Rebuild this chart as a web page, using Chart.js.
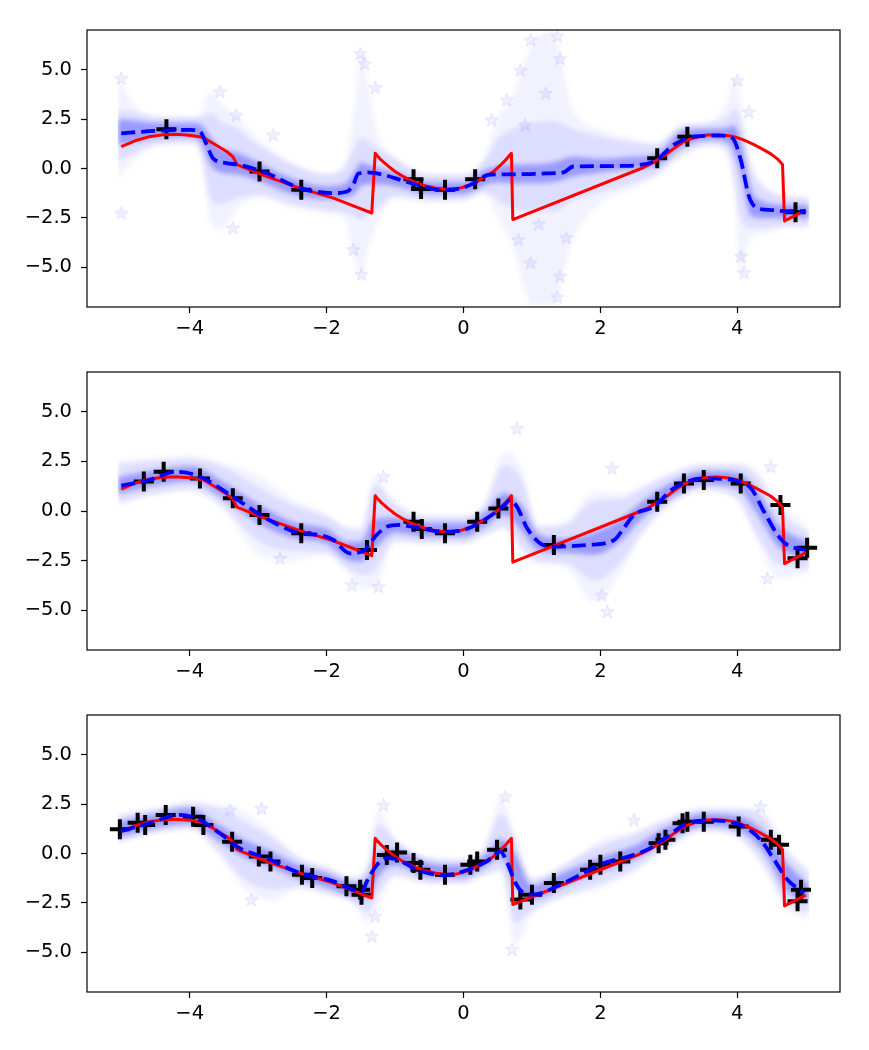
<!DOCTYPE html>
<html><head><meta charset="utf-8">
<script src="https://cdn.jsdelivr.net/npm/chart.js@4.4.1/dist/chart.umd.min.js"></script>
<style>
html,body{margin:0;padding:0;background:#fff;width:869px;height:1050px;overflow:hidden;}
canvas{position:absolute;left:0;}
</style></head><body>
<canvas id="c1" width="869" height="327" style="top:20px"></canvas>
<canvas id="c2" width="869" height="328" style="top:362px"></canvas>
<canvas id="c3" width="869" height="327" style="top:705px"></canvas>
<script>
// ---------- tick labels ----------
const xTicks = [-4, -2, 0, 2, 4];
const yTicks = [-5, -2.5, 0, 2.5, 5];

// ---------- true function (red) ----------
const trueX = [-5.0,-4.8,-4.6,-4.4,-4.2,-4.0,-3.9,-3.8,-3.66,-3.46,-3.37,-3.31,-2.88,-2.39,-1.9,-1.6,-1.34,-1.29,-1.25,-1.2,-1.1,-1.0,-0.9,-0.8,-0.7,-0.55,-0.4,-0.25,-0.1,0.0,0.1,0.2,0.3,0.44,0.55,0.62,0.7,0.72,2.63,2.7,2.8,2.9,2.98,3.1,3.22,3.32,3.45,3.56,3.7,3.85,3.95,4.05,4.15,4.25,4.34,4.42,4.49,4.58,4.66,4.69,5.0];
const trueY = [1.1,1.4,1.6,1.7,1.73,1.68,1.63,1.57,1.28,0.86,0.6,0.2,-0.4,-0.99,-1.5,-1.9,-2.25,0.77,0.6,0.42,0.12,-0.15,-0.37,-0.55,-0.7,-0.88,-1.0,-1.06,-1.03,-0.94,-0.82,-0.65,-0.45,-0.15,0.2,0.45,0.77,-2.58,0.05,0.17,0.37,0.58,0.77,1.08,1.36,1.5,1.63,1.69,1.71,1.67,1.61,1.5,1.36,1.19,1.03,0.88,0.74,0.5,0.2,-2.65,-2.1];

// ---------- panel 1 ----------
const p1TrainX = [-4.34,-2.98,-2.37,-0.73,-0.62,-0.27,0.17,2.83,3.27,4.85];
const p1TrainY = [1.98,-0.15,-1.07,-0.54,-1.04,-1.07,-0.54,0.52,1.61,-2.21];
const p1MeanX = [-5.0,-4.5,-4.0,-3.85,-3.76,-3.66,-3.46,-3.27,-2.88,-2.39,-1.9,-1.7,-1.61,-1.54,-1.41,-1.17,-0.93,-0.68,-0.29,0.0,0.2,0.34,0.5,0.83,1.2,1.46,1.6,2.0,2.29,2.78,3.07,3.37,3.76,3.93,4.05,4.17,4.29,4.5,4.73,5.0];
const p1MeanY = [1.78,1.9,1.95,1.86,1.27,0.52,0.27,0.18,-0.23,-0.99,-1.24,-1.16,-0.82,-0.27,-0.2,-0.32,-0.57,-0.82,-1.1,-0.96,-0.65,-0.34,-0.3,-0.29,-0.25,-0.2,0.1,0.12,0.13,0.35,1.19,1.61,1.66,1.53,0.44,-1.41,-2.0,-2.1,-2.16,-2.16];
const p1BandX   = [-5.05,-4.75,-4.5,-4.0,-3.85,-3.7,-3.55,-3.3,-3.0,-2.5,-2.0,-1.75,-1.6,-1.5,-1.4,-1.25,-1.0,-0.5,0.0,0.3,0.5,0.7,1.0,1.3,1.6,2.0,2.5,2.8,3.2,3.6,3.85,3.95,4.05,4.2,4.4,4.7,5.05];
const p1InnerLo = [1.2,1.4,1.55,1.6,1.4,0.2,-0.2,-0.3,-0.6,-1.3,-1.55,-1.5,-1.3,-0.9,-0.8,-0.8,-0.9,-1.3,-1.3,-0.85,-0.7,-0.75,-0.75,-0.7,-0.4,-0.2,0.0,0.1,1.1,1.45,1.3,0.8,-0.3,-2.4,-2.5,-2.5,-2.5];
const p1InnerHi = [2.5,2.4,2.3,2.3,2.25,1.6,1.0,0.8,0.3,-0.5,-0.9,-0.8,-0.2,0.3,0.2,0.0,-0.2,-0.7,-0.7,-0.1,0.1,0.2,0.2,0.3,0.6,0.5,0.6,0.7,1.9,2.0,2.05,2.2,1.4,-1.0,-1.7,-1.85,-1.85];
const p1OuterLo = [0.3,0.9,1.2,1.3,0.9,-1.5,-1.8,-1.5,-1.3,-1.8,-2.1,-2.2,-2.4,-2.6,-2.4,-2.0,-1.4,-1.6,-1.6,-1.2,-1.6,-2.0,-2.2,-2.2,-1.6,-1.2,-0.7,-0.3,0.7,1.2,0.9,-0.5,-2.5,-3.0,-3.0,-2.9,-2.9];
const p1OuterHi = [3.0,2.8,2.6,2.6,2.6,2.8,2.4,2.0,1.2,0.2,-0.3,0.0,1.0,1.6,1.4,1.0,0.5,-0.3,-0.3,0.4,1.5,2.0,2.3,2.4,2.0,1.6,1.3,1.2,2.2,2.3,2.6,3.0,2.5,0.0,-1.0,-1.4,-1.5];
const p1FarLo   = [-0.5,0.6,1.1,1.2,0.8,-2.7,-3.1,-2.0,-1.5,-2.0,-2.3,-2.5,-4.5,-5.5,-4.2,-2.8,-1.5,-1.7,-1.6,-1.3,-2.5,-3.8,-6.9,-6.9,-3.6,-1.8,-1.0,-0.5,0.6,1.1,0.7,-1.2,-5.4,-3.5,-3.3,-3.0,-3.0];
const p1FarHi   = [4.6,3.0,2.7,2.6,2.7,3.9,3.3,2.6,1.5,0.3,-0.2,0.2,3.0,5.9,4.5,1.8,0.6,-0.3,-0.3,0.5,2.6,3.5,6.3,6.9,3.0,2.0,1.5,1.3,2.2,2.4,3.4,4.6,3.5,0.5,-0.8,-1.3,-1.4];
const p1StarX = [-5.0,-5.0,-3.56,-3.32,-2.78,-3.37,-1.51,-1.44,-1.29,-1.61,-1.49,0.98,1.37,1.41,0.83,0.63,0.41,4.0,4.17,0.98,1.37,1.41,4.1,4.05,0.8,1.2,1.1,0.9,1.5];
const p1StarY = [4.55,-2.25,3.88,2.7,1.7,-3.0,5.8,5.3,4.1,-4.1,-5.35,6.5,6.7,5.55,4.97,3.46,2.45,4.46,2.87,-4.77,-6.5,-5.44,-5.27,-4.43,-3.6,3.8,-2.8,2.2,-3.5];

// ---------- panel 2 ----------
const p2TrainX = [-4.67,-4.38,-3.85,-3.37,-2.98,-2.37,-1.41,-0.73,-0.61,-0.27,0.2,0.51,1.32,2.83,3.22,3.51,4.05,4.63,4.88,5.02];
const p2TrainY = [1.48,1.98,1.64,0.64,-0.2,-1.12,-1.96,-0.54,-0.91,-1.12,-0.54,0.13,-1.71,0.47,1.39,1.56,1.39,0.3,-2.38,-1.85];
const p2MeanX = [-5.0,-4.59,-4.2,-3.85,-3.37,-2.88,-2.39,-2.1,-1.9,-1.66,-1.46,-1.27,-1.12,-0.93,-0.68,-0.29,0.0,0.34,0.6,0.68,0.78,0.93,1.12,1.32,1.8,2.2,2.34,2.49,2.78,3.07,3.51,3.95,4.2,4.39,4.59,4.73,5.0];
const p2MeanY = [1.28,1.56,1.98,1.73,0.72,-0.37,-1.12,-1.21,-1.46,-2.13,-2.01,-1.21,-0.79,-0.7,-0.84,-1.04,-0.96,-0.37,0.3,0.55,0.22,-0.87,-1.63,-1.8,-1.71,-1.46,-0.87,-0.2,0.22,1.14,1.64,1.56,1.14,-0.03,-1.21,-1.71,-1.96];
const p2BandX   = [-5.05,-4.5,-4.0,-3.5,-3.0,-2.5,-2.0,-1.7,-1.5,-1.3,-1.0,-0.5,0.0,0.3,0.6,0.85,1.1,1.5,1.9,2.3,2.6,3.0,3.5,4.0,4.3,4.6,5.05];
const p2InnerLo = [0.85,1.3,1.5,0.6,-0.6,-1.35,-1.65,-2.45,-2.55,-1.9,-1.1,-1.3,-1.3,-0.8,-0.2,-1.0,-2.0,-2.1,-2.2,-1.5,-0.4,0.6,1.35,1.15,-0.2,-1.8,-2.4];
const p2InnerHi = [1.7,2.05,2.25,1.45,0.35,-0.55,-0.9,-1.55,-1.55,-0.4,-0.35,-0.6,-0.6,-0.1,0.9,0.3,-1.2,-1.4,-1.1,-0.4,0.45,1.35,2.0,1.9,1.0,-0.7,-1.6];
const p2OuterLo = [0.4,0.9,1.1,0.2,-1.5,-2.0,-2.1,-2.9,-3.2,-3.0,-1.5,-1.6,-1.6,-1.2,-0.8,-1.8,-2.5,-2.6,-3.5,-2.6,-1.1,0.3,1.1,0.6,-1.3,-2.7,-2.9];
const p2OuterHi = [2.3,2.5,2.6,2.2,1.2,0.3,-0.3,-0.9,-1.0,1.3,0.3,-0.3,-0.3,0.3,2.3,1.6,-0.8,-0.7,0.5,0.6,1.1,1.8,2.3,2.3,1.7,0.0,-1.1];
const p2FarLo   = [0.3,0.8,1.0,0.0,-2.2,-2.5,-2.2,-3.1,-3.9,-3.9,-1.6,-1.7,-1.7,-1.3,-0.9,-2.2,-2.7,-2.9,-4.6,-3.1,-1.3,0.2,1.0,0.5,-1.6,-3.4,-3.1];
const p2FarHi   = [2.6,2.7,2.8,2.4,1.8,0.6,-0.1,-0.8,-0.8,1.8,0.5,-0.2,-0.2,0.4,3.0,2.2,-0.7,-0.5,1.0,0.9,1.3,1.9,2.4,2.4,2.0,0.5,-0.9];
const p2StarX = [-1.17,-1.24,-1.63,-2.68,0.78,2.17,2.1,2.02,4.44,4.49];
const p2StarY = [1.73,-3.81,-3.72,-2.38,4.16,2.15,-5.07,-4.23,-3.39,2.23];

// ---------- panel 3 ----------
const p3TrainX = [-5.02,-4.76,-4.65,-4.35,-3.95,-3.8,-3.38,-2.99,-2.82,-2.36,-2.21,-1.71,-1.51,-1.49,-1.12,-0.97,-0.73,-0.63,-0.27,0.1,0.2,0.49,0.83,1.0,1.32,1.85,2.0,2.29,2.85,2.95,3.2,3.27,3.51,4.02,4.49,4.61,4.93,4.88];
const p3TrainY = [1.23,1.56,1.44,1.95,1.86,1.44,0.6,-0.15,-0.4,-1.07,-1.24,-1.66,-1.83,-2.08,-0.07,0.05,-0.48,-0.82,-1.07,-0.57,-0.4,0.19,-2.33,-2.08,-1.49,-0.82,-0.57,-0.4,0.52,0.69,1.53,1.61,1.61,1.36,0.69,0.44,-1.83,-2.41];
const p3MeanX = [-5.0,-4.59,-4.15,-3.85,-3.56,-3.27,-2.88,-2.39,-1.9,-1.6,-1.48,-1.41,-1.27,-1.12,-0.97,-0.68,-0.29,0.0,0.34,0.54,0.63,0.76,0.88,1.02,1.41,1.8,2.0,2.49,2.73,2.98,3.22,3.56,4.05,4.34,4.54,4.73,4.98];
const p3MeanY = [1.14,1.53,1.95,1.69,1.02,0.27,-0.23,-0.99,-1.41,-1.85,-1.9,-1.4,-0.6,-0.23,-0.3,-0.82,-1.1,-0.9,-0.4,0.1,-0.4,-1.49,-2.0,-2.08,-1.58,-0.9,-0.55,-0.07,0.27,0.86,1.44,1.67,1.44,0.69,-0.32,-1.32,-2.0];
const p3BandX   = [-5.05,-4.5,-4.0,-3.6,-3.2,-2.8,-2.4,-2.0,-1.6,-1.4,-1.25,-1.0,-0.5,0.0,0.3,0.55,0.75,1.0,1.5,2.0,2.5,3.0,3.5,4.0,4.4,4.7,5.05];
const p3InnerLo = [0.8,1.3,1.5,0.7,-0.2,-0.7,-1.3,-1.7,-2.2,-2.3,-1.2,-0.6,-1.2,-1.2,-0.7,-0.2,-1.6,-2.3,-1.6,-0.9,-0.3,0.7,1.4,1.2,0.0,-1.8,-2.5];
const p3InnerHi = [1.6,2.0,2.3,1.5,0.7,0.1,-0.6,-1.0,-1.5,-1.2,0.0,0.2,-0.5,-0.6,-0.1,0.7,0.0,-1.6,-0.9,-0.2,0.4,1.4,2.0,1.9,1.1,-0.4,-1.6];
const p3OuterLo = [0.6,1.05,1.25,0.2,-1.3,-1.8,-1.7,-2.0,-2.5,-3.0,-2.0,-1.1,-1.5,-1.5,-1.1,-0.8,-3.5,-2.9,-2.1,-1.5,-0.8,0.35,1.15,0.85,-0.6,-2.5,-3.0];
const p3OuterHi = [1.9,2.25,2.55,2.3,1.6,0.8,-0.2,-0.7,-1.2,-0.6,1.5,0.7,-0.2,-0.3,0.3,2.0,0.8,-1.3,-0.5,0.4,1.0,1.8,2.25,2.25,1.8,0.2,-1.0];
const p3FarLo   = [0.5,1.0,1.2,0.0,-1.8,-2.4,-1.8,-2.1,-2.6,-3.5,-2.6,-1.2,-1.5,-1.5,-1.1,-1.0,-4.7,-3.1,-2.2,-1.8,-0.9,0.3,1.1,0.8,-0.9,-2.7,-3.4];
const p3FarHi   = [2.0,2.3,2.6,2.5,2.1,1.1,-0.2,-0.7,-1.2,-0.5,2.2,0.8,-0.2,-0.3,0.3,2.8,1.0,-1.2,-0.5,0.7,1.1,1.8,2.3,2.3,2.1,0.4,-0.9];
const p3StarX = [-3.41,-2.95,-3.1,-1.17,-1.29,-1.34,0.61,0.71,2.49,4.34];
const p3StarY = [2.2,2.28,-2.33,2.45,-3.17,-4.18,2.87,-4.85,1.69,2.37];

// ---------- helpers ----------
const pts = (xs, ys) => xs.map((x, i) => ({x: x, y: ys[i]}));
const minus = v => (v < 0 ? '\u2212' : '');
const FONT = {family: 'DejaVu Sans', size: 19.5};

function makeStar() {
  const s = 15, c = document.createElement('canvas');
  c.width = s; c.height = s;
  const g = c.getContext('2d');
  g.translate(s / 2, s / 2 + 0.5);
  g.beginPath();
  for (let i = 0; i < 10; i++) {
    const r = i % 2 ? 2.9 : 7;
    const a = -Math.PI / 2 + i * Math.PI / 5;
    g.lineTo(r * Math.cos(a), r * Math.sin(a));
  }
  g.closePath();
  g.fillStyle = 'rgba(0,0,255,0.06)';
  g.fill();
  g.strokeStyle = 'rgba(0,0,255,0.10)';
  g.lineWidth = 1;
  g.stroke();
  return c;
}
const STAR = makeStar();

const hazePlugin = {
  id: 'haze',
  beforeDatasetsDraw(chart) { chart.ctx.save(); chart.ctx.filter = 'blur(2.5px)'; },
  afterDatasetDraw(chart, args) { if (args.index === 5) chart.ctx.filter = 'none'; },
  afterDatasetsDraw(chart) { chart.ctx.restore(); }
};
const framePlugin = {
  id: 'frame',
  afterDraw(chart) {
    const a = chart.chartArea, ctx = chart.ctx;
    ctx.save();
    ctx.strokeStyle = '#000';
    ctx.lineWidth = 1.2;
    ctx.strokeRect(a.left, a.top, a.right - a.left, a.bottom - a.top);
    ctx.restore();
  }
};

function band(data, order, fill, color) {
  return {data: data, type: 'line', showLine: true, borderWidth: 0, borderColor: 'transparent',
          pointRadius: 0, pointHoverRadius: 0, fill: fill, backgroundColor: color,
          cubicInterpolationMode: 'monotone', order: order};
}

function makePanel(id, p) {
  new Chart(document.getElementById(id), {
    type: 'line',
    data: {
      datasets: [
        band(pts(p.bx, p.fLo), 12, false, 'transparent'),
        band(pts(p.bx, p.fHi), 11, '-1', 'rgba(0,0,255,0.05)'),
        band(pts(p.bx, p.oLo), 10, false, 'transparent'),
        band(pts(p.bx, p.oHi), 9, '-1', 'rgba(0,0,255,0.09)'),
        band(pts(p.bx, p.iLo), 8, false, 'transparent'),
        band(pts(p.bx, p.iHi), 7, '-1', 'rgba(0,0,255,0.30)'),
        {data: pts(p.sx, p.sy), showLine: false, pointStyle: STAR, pointRadius: 7, order: 6},
        {data: pts(p.tx, p.ty), showLine: false, pointStyle: 'cross', pointRadius: 10,
         pointBorderWidth: 4, pointBorderColor: '#000', borderColor: '#000', order: 4},
        {data: pts(trueX, trueY), showLine: true, borderColor: '#ff0000', borderWidth: 3,
         borderJoinStyle: 'round', pointRadius: 0, fill: false, tension: 0, order: 3},
        {data: pts(p.mx, p.my), showLine: true, borderColor: '#0000ff', borderWidth: 3.8,
         borderDash: [14, 6], borderCapStyle: 'butt', pointRadius: 0, fill: false,
         cubicInterpolationMode: 'monotone', order: 2}
      ]
    },
    options: {
      responsive: false, animation: false, devicePixelRatio: 1, events: [],
      layout: {autoPadding: false, padding: {top: 10, right: 29, left: 0, bottom: 0}},
      plugins: {legend: {display: false}, tooltip: {enabled: false}},
      scales: {
        x: {
          type: 'linear', min: -5.5, max: 5.5,
          afterBuildTicks: s => { s.ticks = xTicks.map(v => ({value: v})); },
          afterFit: s => { s.height = 40; s.paddingLeft = 0; s.paddingRight = 0; },
          border: {display: false},
          grid: {display: true, drawOnChartArea: false, drawTicks: true, tickLength: 6, tickWidth: 1.2, tickColor: '#000'},
          ticks: {color: '#000', font: FONT, padding: 4, maxRotation: 0, autoSkip: false,
                  callback: v => minus(v) + Math.abs(v)}
        },
        y: {
          type: 'linear', min: -7, max: 7,
          afterBuildTicks: s => { s.ticks = yTicks.map(v => ({value: v})); },
          afterFit: s => { s.width = 87; s.paddingTop = 0; s.paddingBottom = 0; },
          border: {display: false},
          grid: {display: true, drawOnChartArea: false, drawTicks: true, tickLength: 6, tickWidth: 1.2, tickColor: '#000'},
          ticks: {color: '#000', font: FONT, padding: 9, autoSkip: false,
                  callback: v => minus(v) + Math.abs(v).toFixed(1)}
        }
      }
    },
    plugins: [hazePlugin, framePlugin]
  });
}

makePanel('c1', {bx: p1BandX, iLo: p1InnerLo, iHi: p1InnerHi, oLo: p1OuterLo, oHi: p1OuterHi, fLo: p1FarLo, fHi: p1FarHi,
  sx: p1StarX, sy: p1StarY, tx: p1TrainX, ty: p1TrainY, mx: p1MeanX, my: p1MeanY});
makePanel('c2', {bx: p2BandX, iLo: p2InnerLo, iHi: p2InnerHi, oLo: p2OuterLo, oHi: p2OuterHi, fLo: p2FarLo, fHi: p2FarHi,
  sx: p2StarX, sy: p2StarY, tx: p2TrainX, ty: p2TrainY, mx: p2MeanX, my: p2MeanY});
makePanel('c3', {bx: p3BandX, iLo: p3InnerLo, iHi: p3InnerHi, oLo: p3OuterLo, oHi: p3OuterHi, fLo: p3FarLo, fHi: p3FarHi,
  sx: p3StarX, sy: p3StarY, tx: p3TrainX, ty: p3TrainY, mx: p3MeanX, my: p3MeanY});
</script>
</body></html>
